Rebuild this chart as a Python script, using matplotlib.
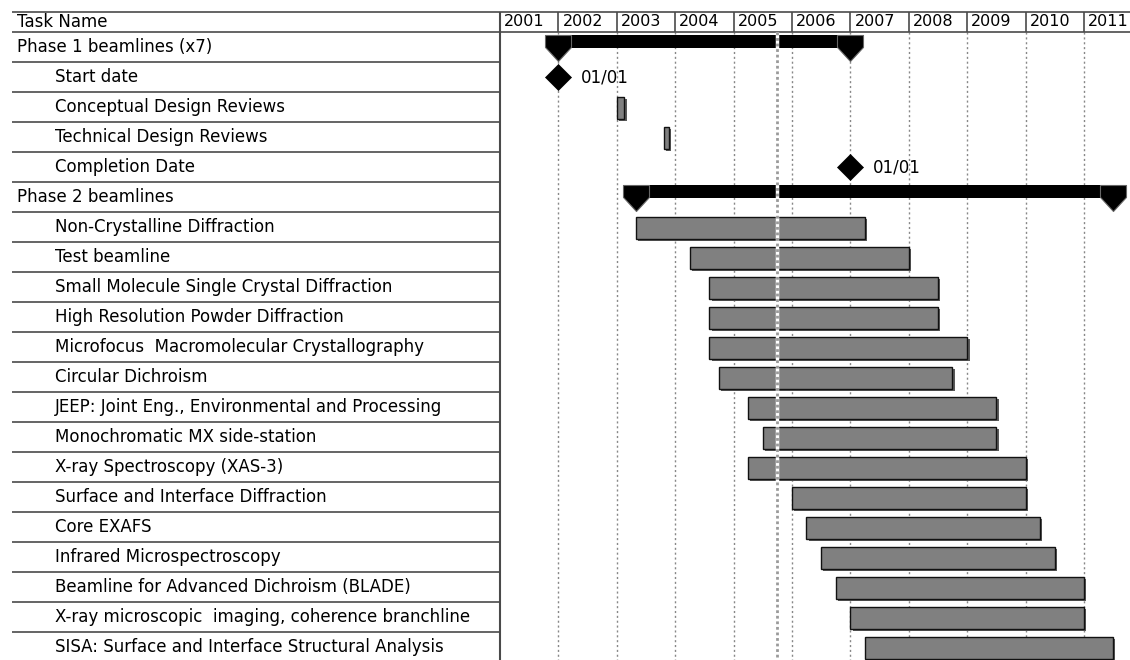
import matplotlib
matplotlib.use("Agg")
import matplotlib.pyplot as plt
import matplotlib.dates as mdates
from matplotlib.path import Path
from matplotlib.transforms import ScaledTranslation

# Task table (rows from top to bottom)
task_names = [
    "Phase 1 beamlines (x7)",
    "Start date",
    "Conceptual Design Reviews",
    "Technical Design Reviews",
    "Completion Date",
    "Phase 2 beamlines",
    "Non-Crystalline Diffraction",
    "Test beamline",
    "Small Molecule Single Crystal Diffraction",
    "High Resolution Powder Diffraction",
    "Microfocus  Macromolecular Crystallography",
    "Circular Dichroism",
    "JEEP: Joint Eng., Environmental and Processing",
    "Monochromatic MX side-station",
    "X-ray Spectroscopy (XAS-3)",
    "Surface and Interface Diffraction",
    "Core EXAFS",
    "Infrared Microspectroscopy",
    "Beamline for Advanced Dichroism (BLADE)",
    "X-ray microscopic  imaging, coherence branchline",
    "SISA: Surface and Interface Structural Analysis",
]
task_level = [0, 1, 1, 1, 1, 0] + [1] * 15
task_kind = ["summary", "milestone", "task", "task", "milestone", "summary"] + ["task"] * 15
task_start = [
    "2002-01-01", "2002-01-01", "2003-01-01", "2003-10-23", "2007-01-01",
    "2003-05-01", "2003-05-01", "2004-04-01", "2004-08-01", "2004-08-01",
    "2004-08-01", "2004-10-01", "2005-04-01", "2005-07-01", "2005-04-01",
    "2006-01-01", "2006-04-01", "2006-07-01", "2006-10-01", "2007-01-01",
    "2007-04-01",
]
task_end = [
    "2007-01-01", "2002-01-01", "2003-02-18", "2003-11-22", "2007-01-01",
    "2011-07-01", "2007-04-01", "2007-12-31", "2008-07-01", "2008-07-01",
    "2009-01-01", "2008-10-01", "2009-07-01", "2009-07-01", "2010-01-01",
    "2010-01-01", "2010-04-01", "2010-07-01", "2011-01-01", "2011-01-01",
    "2011-07-01",
]
milestone_label = "01/01"
years = list(range(2001, 2012))
today = "2005-09-28"

W, H = 1130, 660
fig = plt.figure(figsize=(W / 100, H / 100), dpi=100)
plt.rcParams["font.family"] = ["DejaVu Sans"]
FS = 12
line_col = "#4a4a4a"

n_rows = len(task_names)
head = 20 / 30          # header height in row units
y_bottom = 648 / 30 - head

# ---- left table ----
axl = fig.add_axes([12 / W, 0, 488 / W, 648 / H])
axl.set_xlim(0, 1)
axl.set_ylim(y_bottom, -head)
axl.axis("off")
axl.hlines([-head] + list(range(0, n_rows)), 0, 1, colors=line_col, lw=1.2, clip_on=False)
axl.vlines(1, -head, y_bottom, colors=line_col, lw=1.5, clip_on=False)
axl.text(5 / 488, -head / 2, "Task Name", fontsize=FS, va="center", ha="left")
for i, (name, lvl) in enumerate(zip(task_names, task_level)):
    x = 5 / 488 if lvl == 0 else 43 / 488
    axl.text(x, i + 0.5, name, fontsize=FS, va="center", ha="left")

# ---- gantt area ----
ax = fig.add_axes([500 / W, 0, 630 / W, 648 / H])
x0 = mdates.datestr2num("2001-01-01")
ax.set_xlim(x0, x0 + 630 / 58.4 * 365.25)
ax.set_ylim(y_bottom, -head)
ax.axis("off")

year_num = [mdates.datestr2num(f"{y}-01-01") for y in years]
ax.hlines([-head, 0], x0, ax.get_xlim()[1], colors=line_col, lw=1.2, clip_on=False)
ax.vlines(year_num[1:], -head, 0, colors=line_col, lw=1.2)
for y, xn in zip(years, year_num):
    ax.annotate(str(y), (xn, -head / 2), xytext=(3, 0), textcoords="offset points",
                fontsize=11.5, va="center", ha="left")
ax.vlines(year_num[1:], 0, y_bottom, colors="#888888", lw=1, linestyles=(0, (1.5, 2)), zorder=1)

starts = [mdates.datestr2num(s) for s in task_start]
ends = [mdates.datestr2num(e) for e in task_end]

cap = Path([(-1, 1), (1, 1), (1, 0.08), (0, -1), (-1, 0.08), (-1, 1)],
           [Path.MOVETO] + [Path.LINETO] * 4 + [Path.CLOSEPOLY])
diamond = Path([(0, 1), (1, 0), (0, -1), (-1, 0), (0, 1)],
               [Path.MOVETO] + [Path.LINETO] * 3 + [Path.CLOSEPOLY])
mk = 26 * 72 / 100

shadow = ax.transData + ScaledTranslation(2.5 / 100, -2.5 / 100, fig.dpi_scale_trans)

for i, (kind, s, e) in enumerate(zip(task_kind, starts, ends)):
    if kind == "task":
        sh = ax.barh(i + 0.527, e - s, left=s, height=0.745, color="#5a5a5a", zorder=2)
        for p in sh:
            p.set_transform(shadow)
        ax.barh(i + 0.527, e - s, left=s, height=0.745, color="#808080",
                edgecolor="#111111", lw=1.0, zorder=3)
    elif kind == "summary":
        ax.barh(i + 0.333, e - s, left=s, height=0.433, color="black", zorder=3)
        ax.plot([s, e], [i + 0.533, i + 0.533], ls="none", marker=cap, ms=mk,
                mfc="black", mec="#666666", mew=0.8, zorder=4)
    else:
        ax.plot([s], [i + 0.5], ls="none", marker=diamond, ms=mk, mfc="black",
                mec="black", mew=0.5, zorder=4)
        ax.annotate(milestone_label, (s, i + 0.5), xytext=(16, 0), textcoords="offset points",
                    fontsize=FS, va="center", ha="left")

t = mdates.datestr2num(today)
ax.vlines(t, 0, y_bottom, colors="white", lw=2.5, zorder=5)
ax.vlines(t, 0, y_bottom, colors="#9a9a9a", lw=2, linestyles=(0, (1, 1)), zorder=6)

fig.savefig("out.png", dpi=100)
